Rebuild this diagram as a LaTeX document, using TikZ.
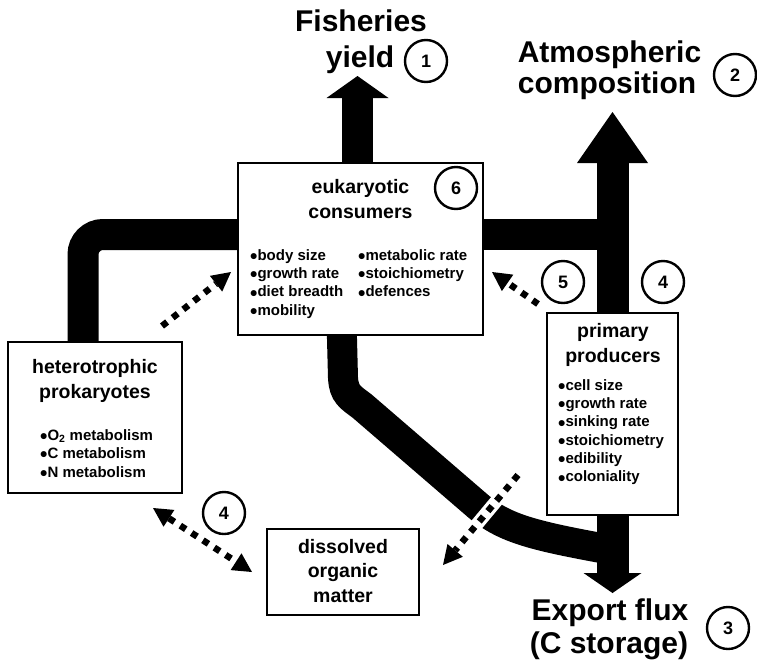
\documentclass[tikz,border=0pt]{standalone}
\usepackage{fontspec}
\setmainfont{Liberation Sans}
\usetikzlibrary{arrows.meta,backgrounds}
\tikzset{dottip/.tip={Triangle[length=19pt,width=20pt,line width=0pt]}}
% a slightly heavier list bullet, centred on the x-height
\newcommand\listdot{\raisebox{-3.4pt}[0pt][0pt]{\scalebox{1.4}{•}}}
\begin{document}
\begin{tikzpicture}[x=1pt,y=-1pt,
  flow/.style={line width=31pt, line cap=butt},
  stem/.style={line width=32pt, line cap=butt},
  box/.style={draw, line width=2.2pt, fill=white, inner sep=0pt},
  num/.style={circle, draw, line width=2.4pt, fill=white, minimum size=42pt, inner sep=0pt,
              font=\bfseries\fontsize{18}{18}\selectfont},
  big/.style={font=\bfseries\fontsize{30}{30}\selectfont, inner sep=0pt, anchor=base},
  title/.style={font=\bfseries\fontsize{19.5}{19.5}\selectfont, inner sep=0pt, anchor=base},
  item/.style={font=\bfseries\fontsize{15}{15}\selectfont, inner sep=0pt, anchor=base west},
  dots/.style={line width=6.5pt, dash pattern=on 6.5pt off 7pt},
]
\useasboundingbox (0,0) rectangle (757,667);

% compartments
\node[box, minimum width=245pt, minimum height=172pt] (euk) at (360.5,249) {};
\node[box, minimum width=174pt, minimum height=151pt] (het) at (95,417.5) {};
\node[box, minimum width=131pt, minimum height=202pt] (pp)  at (612.5,414) {};
\node[box, minimum width=152pt, minimum height=86pt]  (dom) at (343,572) {};

% reference points for the flows
\coordinate (fishtip) at (357.5,76);
\coordinate (atmtip)  at (612.5,112);
\coordinate (exptip)  at (612.5,593);
\coordinate (bar)     at (0,234.5);
\coordinate (lstem)   at (83,0);

% thick carbon flows, kept beneath the boxes
\begin{scope}[on background layer]
  \draw[flow, -{Triangle[length=22pt,width=62pt,line width=0pt]}] (fishtip |- euk.center) -- (fishtip);
  \draw[stem, -{Triangle[length=51pt,width=71pt,line width=0pt]}] (pp.center) -- (atmtip);
  \draw[stem, -{Triangle[length=20pt,width=58pt,line width=0pt]}] (pp.center) -- (exptip);
  \draw[flow] (euk.center |- bar) -- (atmtip |- bar);
  \draw[flow, rounded corners=20pt] (euk.center |- bar) -- (lstem |- bar) -- (lstem |- het.center);
  \draw[line width=30pt, line cap=butt]
    (341,300) -- (343,378) .. controls (344,394) and (350,397) .. (362,406)
    -- (478,506) .. controls (505,529) and (535,536) .. (612,550);
\end{scope}

% exchange arrows
\coordinate (a1) at (162,326);  \coordinate (a2) at (231,272);
\coordinate (b1) at (538,304);  \coordinate (b2) at (492,272);
\coordinate (c1) at (153,508);  \coordinate (c2) at (252,572);
\coordinate (d1) at (518,475);  \coordinate (d2) at (443,565);
\draw[dots, -dottip] (a1) -- (a2);
\draw[dots, -dottip] (b1) -- (b2);
\draw[dots, dottip-dottip] (c1) -- (c2);
\draw[line width=13pt, white, shorten >=14pt] (d1) -- (d2);
\draw[dots, -dottip] (d1) -- (d2);

% outcome labels
\node[big] (fish1) at (361,31) {Fisheries};
\node[big] (fish2) at (360,67) {yield};
\node[big] (atm1) at (609.5,62) {Atmospheric};
\node[big] (atm2) at (607,93) {composition};
\node[big] (exp1) at (610,620) {Export flux};
\node[big] (exp2) at (609,653) {(C storage)};

% box titles
\node[title] (eukt1) at (360.5,193) {eukaryotic};
\node[title] (eukt2) at (360.5,218) {consumers};
\node[title] (hett1) at (95,373) {heterotrophic};
\node[title] (hett2) at (95,398) {prokaryotes};
\node[title] (ppt1) at (613,337) {primary};
\node[title] (ppt2) at (613,362) {producers};
\node[title] (dom1) at (343,553) {dissolved};
\node[title] (dom2) at (343,577) {organic};
\node[title] (dom3) at (343,602) {matter};

% trait lists
\foreach \t/\y [count=\i] in {body size/260, growth rate/278.3, diet breadth/296.7, mobility/315}
  \node[item] (eka\i) at (250,\y) {\listdot\t};
\foreach \t/\y [count=\i] in {metabolic rate/260, stoichiometry/278.3, defences/296.7}
  \node[item] (ekb\i) at (358,\y) {\listdot\t};
\node[item] (ht1) at (40,440) {\listdot O\textsubscript{2} metabolism};
\node[item] (ht2) at (40,458.5) {\listdot C metabolism};
\node[item] (ht3) at (40,477) {\listdot N metabolism};
\foreach \t/\y [count=\i] in {cell size/390, growth rate/408.3, sinking rate/426.7,
                              stoichiometry/445, edibility/463.3, coloniality/481.7}
  \node[item] (pi\i) at (558,\y) {\listdot\t};

% numbered markers
\node[num] (n1) at (426,61) {1};
\node[num] (n2) at (735,75) {2};
\node[num] (n3) at (728,628) {3};
\node[num] (n4a) at (663,282) {4};
\node[num] (n5) at (563,282) {5};
\node[num] (n6) at (456,188) {6};
\node[num] (n4b) at (224,513) {4};
\end{tikzpicture}
\end{document}
